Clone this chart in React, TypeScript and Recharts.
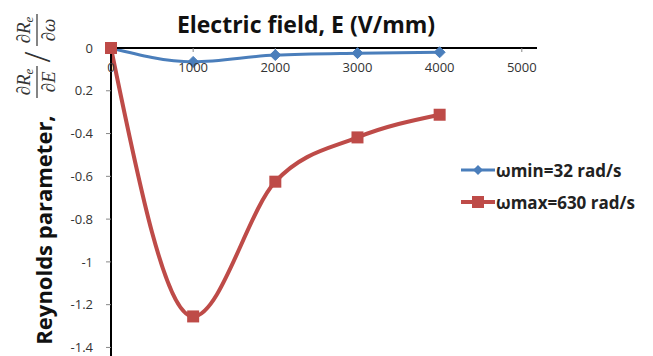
import React from "react";
import { LineChart, Line, XAxis, YAxis, Legend } from "recharts";

const xValues = [0, 1000, 2000, 3000, 4000];
const wMinValues = [0, -0.065, -0.033, -0.024, -0.02];
const wMaxValues = [0, -1.255, -0.625, -0.418, -0.312];
const xTicks = [0, 1000, 2000, 3000, 4000, 5000];
const yTicks = [0, -0.2, -0.4, -0.6, -0.8, -1, -1.2, -1.4];
const yTickLabels = ["0", "0.2", "-0.4", "-0.6", "-0.8", "-1", "-1.2", "-1.4"];
const seriesNames = ["\u03c9min=32 rad/s", "\u03c9max=630 rad/s"];
const titleText = "Electric field, E (V/mm)";
const yLabelText = "Reynolds parameter,";

const BLUE = "#4A7EBB";
const RED = "#BE4B48";

const data = xValues.map((x, i) => ({ x, wmin: wMinValues[i], wmax: wMaxValues[i] }));

const Diamond = (props: any) => {
  const { cx, cy, index } = props;
  if (cx == null || cy == null) return <g key={`d${index}`} />;
  const s = 5.5;
  return (
    <polygon
      key={`d${index}`}
      points={`${cx},${cy - s} ${cx + s},${cy} ${cx},${cy + s} ${cx - s},${cy}`}
      fill={BLUE}
      stroke={BLUE}
    />
  );
};

const Square = (props: any) => {
  const { cx, cy, index } = props;
  if (cx == null || cy == null) return <g key={`s${index}`} />;
  const s = 6;
  return <rect key={`s${index}`} x={cx - s} y={cy - s} width={2 * s} height={2 * s} fill={RED} />;
};

const LegendContent = () => (
  <div style={{ fontFamily: "'Open Sans', sans-serif", fontWeight: 700, fontSize: 17, color: "#222" }}>
    {seriesNames.map((name, i) => (
      <div key={name} style={{ display: "flex", alignItems: "center", height: 32 }}>
        <svg width={34} height={16} style={{ marginRight: 1 }}>
          <line x1={0} y1={8} x2={34} y2={8} stroke={i === 0 ? BLUE : RED} strokeWidth={i === 0 ? 3 : 4} />
          {i === 0 ? (
            <polygon points="17,3 22,8 17,13 12,8" fill={BLUE} />
          ) : (
            <rect x={11} y={2} width={12} height={12} fill={RED} />
          )}
        </svg>
        <span>{name}</span>
      </div>
    ))}
  </div>
);

export default function App() {
  return (
    <div style={{ position: "absolute", left: 0, top: 0, width: 653, height: 356, background: "#fff" }}>
      <LineChart
        width={653}
        height={356}
        data={data}
        margin={{ top: 48, right: 116, bottom: 0, left: 110 }}
      >
        <XAxis
          dataKey="x"
          type="number"
          orientation="top"
          mirror
          height={1}
          domain={[0, 5185]}
          ticks={xTicks}
          axisLine={{ stroke: "#000", strokeWidth: 2 }}
          tickLine={{ stroke: "#888" }}
          tickSize={4}
          tickMargin={11}
          tick={{ fill: "#333", fontSize: 13, fontFamily: "'Open Sans', sans-serif" }}
        />
        <YAxis
          type="number"
          width={1}
          domain={[-1.44, 0]}
          ticks={yTicks}
          tickFormatter={(v: number) => {
            const idx = yTicks.findIndex((t) => Math.abs(t - v) < 1e-9);
            return idx >= 0 ? yTickLabels[idx] : String(v);
          }}
          axisLine={{ stroke: "#000", strokeWidth: 2 }}
          tickLine={{ stroke: "#888" }}
          tickSize={5}
          tickMargin={13}
          tick={{ fill: "#333", fontSize: 13, fontFamily: "'Open Sans', sans-serif" }}
        />
        <Line
          dataKey="wmin"
          name={seriesNames[0]}
          type="monotone"
          stroke={BLUE}
          strokeWidth={3}
          dot={Diamond}
          activeDot={false}
          isAnimationActive={false}
        />
        <Line
          dataKey="wmax"
          name={seriesNames[1]}
          type="monotone"
          stroke={RED}
          strokeWidth={4}
          dot={Square}
          activeDot={false}
          isAnimationActive={false}
        />
        <Legend
          layout="vertical"
          align="center"
          verticalAlign="middle"
          content={<LegendContent />}
          wrapperStyle={{ position: "absolute", left: 461, top: 154, width: 192 }}
        />
      </LineChart>
      <svg
        width={653}
        height={356}
        style={{ position: "absolute", left: 0, top: 0, pointerEvents: "none" }}
      >
        <text
          x={306}
          y={33}
          textAnchor="middle"
          fontFamily="'Open Sans', sans-serif"
          fontWeight={700}
          fontSize={23}
          fill="#111"
        >
          {titleText}
        </text>
        <text
          transform="translate(52, 230) rotate(-90)"
          textAnchor="middle"
          fontFamily="'Open Sans', sans-serif"
          fontWeight={700}
          fontSize={22}
          fill="#111"
        >
          {yLabelText}
        </text>
        <g
          transform="translate(8, 99) rotate(-90)"
          fontFamily="'Liberation Serif', serif"
          fontStyle="italic"
          fontSize={19}
          fill="#333"
        >
          <text x={17} y={22} textAnchor="middle">
            {"\u2202R"}
            <tspan fontSize={13} dy={3}>e</tspan>
          </text>
          <line x1={1} y1={29} x2={33} y2={29} stroke="#333" strokeWidth={1.2} />
          <text x={17} y={47} textAnchor="middle">{"\u2202E"}</text>
          <text x={42} y={42} textAnchor="middle" fontSize={38} fontStyle="normal">/</text>
          <text x={69} y={22} textAnchor="middle">
            {"\u2202R"}
            <tspan fontSize={13} dy={3}>e</tspan>
          </text>
          <line x1={53} y1={29} x2={85} y2={29} stroke="#333" strokeWidth={1.2} />
          <text x={69} y={47} textAnchor="middle">{"\u2202\u03c9"}</text>
        </g>
      </svg>
    </div>
  );
}
